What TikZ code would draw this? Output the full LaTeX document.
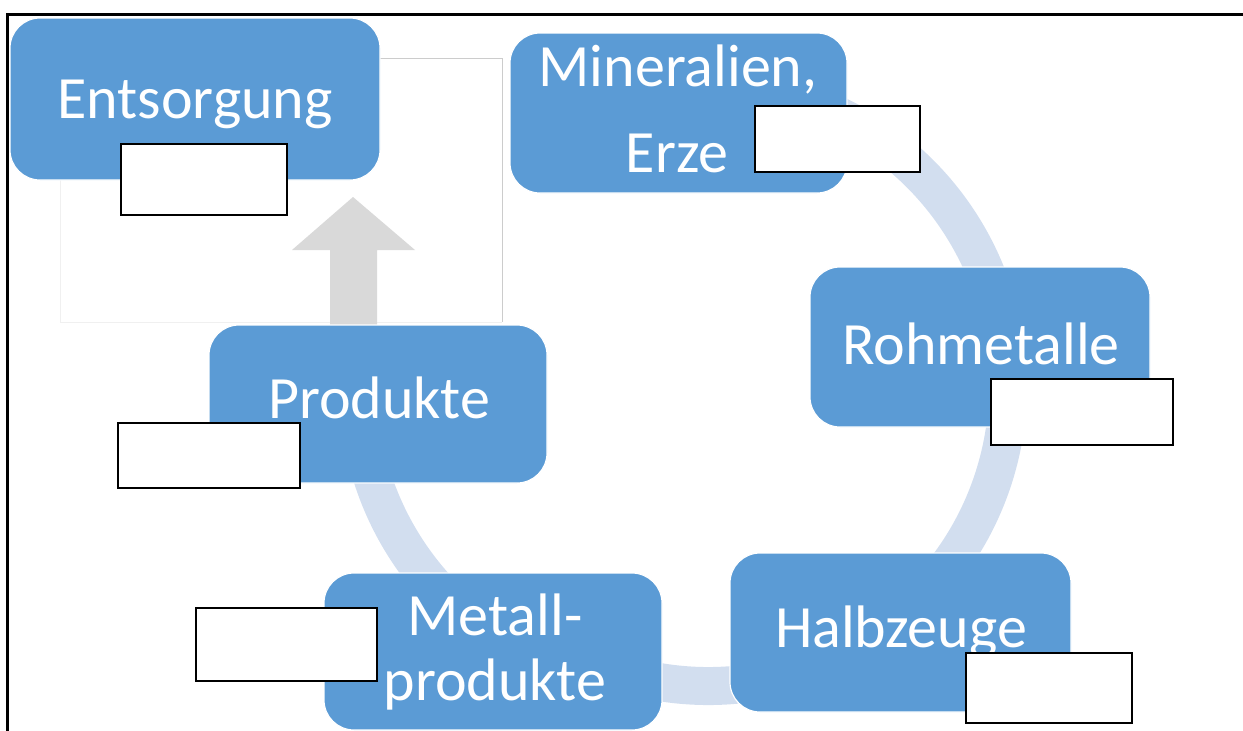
\documentclass[tikz,border=0pt]{standalone}
\usepackage{fontspec}
\newfontfamily\boxfont{Carlito}
\definecolor{boxblue}{HTML}{5B9BD5}
\definecolor{ringblue}{HTML}{D2DEEF}
\definecolor{arrowgray}{HTML}{D9D9D9}
\tikzset{
  stagebox/.style={draw=white, line width=1.2pt, fill=boxblue, rounded corners=30pt},
  stagetext/.style={anchor=base, text=white, inner sep=0pt, font=\boxfont\fontsize{60pt}{60pt}\selectfont},
  blankbox/.style={draw=black, line width=2pt, fill=white},
  ring/.style={draw=ringblue, line width=38pt},
}
\begin{document}
\begin{tikzpicture}[x=1pt, y=1pt, yscale=-1]
  \useasboundingbox (0,0) rectangle (1243,731);

  % page frame (top and left edge)
  \draw[line width=3pt] (7,731) -- (7,14) -- (1243,14);

  % cycle ring segments
  \draw[ring] (708,386) ++(-75:300) arc[start angle=-75, end angle=100, radius=300];
  \draw[ring] (658,386) ++(170:300) arc[start angle=170, end angle=130, radius=300];

  % white panel holding the disposal branch
  \fill[white] (60,58) rectangle (502,322);
  \draw[gray!12, line width=1pt] (502,322) -- (60,322) -- (60,180);
  \draw[gray!40, line width=1pt] (380,58) -- (502,58) -- (502,322);

  % block arrow towards disposal
  \fill[arrowgray] (353,197) -- (415,250) -- (377,250) -- (377,326)
                   -- (330,326) -- (330,250) -- (292,250) -- cycle;

  % stage boxes
  \path[stagebox] (10,18) rectangle (380,180) coordinate (ent);
  \path[stagebox] (510,33) rectangle (847,193) coordinate (min);
  \path[stagebox] (810,267) rectangle (1150,427) coordinate (roh);
  \path[stagebox] (730,553) rectangle (1071,712) coordinate (hal);
  \path[stagebox] (209,325) rectangle (547,483) coordinate (pro);
  \path[stagebox] (324,573) rectangle (662,730) coordinate (met);

  % stage labels
  \node[stagetext] (tEnt) at (195,118) {Entsorgung};
  \node[stagetext] (tMin1) at (678,86) {Mineralien,};
  \node[stagetext] (tMin2) at (677,172) {Erze};
  \node[stagetext] (tRoh) at (981,364) {Rohmetalle};
  \node[stagetext] (tHal) at (901,647) {Halbzeuge};
  \node[stagetext] (tPro) at (379,418) {Produkte};
  \node[stagetext] (tMet1) at (495,635) {Metall-};
  \node[stagetext] (tMet2) at (495,700) {produkte};

  % empty answer fields
  \path[blankbox] (121,144) rectangle (287,215);
  \path[blankbox] (755,106) rectangle (920,172);
  \path[blankbox] (991,379) rectangle (1173,445);
  \path[blankbox] (966,653) rectangle (1132,723);
  \path[blankbox] (118,423) rectangle (300,488);
  \path[blankbox] (196,608) rectangle (377,681);
\end{tikzpicture}
\end{document}
